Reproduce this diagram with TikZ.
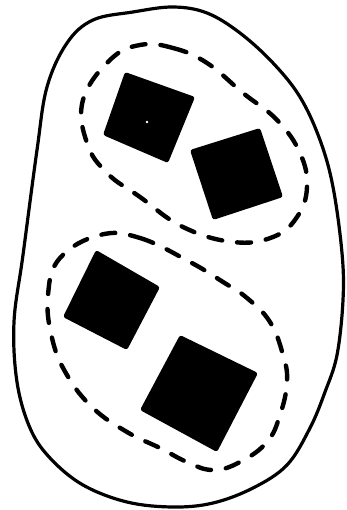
\documentclass[tikz,border=0pt]{standalone}
\begin{document}
\begin{tikzpicture}[x=1pt,y=-1pt,
  outer/.style={line width=3.2pt},
  group/.style={line width=4.4pt,dash pattern=on 14pt off 15pt,line cap=round},
  blk/.style={fill=black,rounded corners=2.5pt}]
\useasboundingbox (0,0) rectangle (346,510);
% outer boundary
\draw[outer] plot[smooth cycle,tension=0.6] coordinates{
 (173,7) (207,13) (240,33) (273,63) (300,97) (320,140) (333,187) (342,253)
 (343,300) (337,355) (325,392) (310,428) (287,465) (253,488) (213,503) (173,507)
 (127,502) (83,485) (50,458) (30,428) (17,382) (14,322) (23,255) (37,150)
 (47,87) (67,43) (93,20) (133,12)};
% upper group
\draw[group] plot[smooth cycle,tension=0.7] coordinates{
 (140,45) (173,48) (207,63) (243,93) (277,120) (300,153) (307,187) (297,217)
 (273,237) (233,242) (183,227) (140,197) (107,173) (87,143) (83,100) (110,60)};
% lower group
\draw[group] plot[smooth cycle,tension=0.7] coordinates{
 (100,235) (140,238) (190,262) (223,282) (247,298) (270,322) (283,355) (287,382)
 (280,415) (267,442) (240,462) (213,470) (187,462) (160,448) (127,432) (93,408)
 (67,375) (52,338) (48,295) (60,258)};
% squares
\fill[blk] (125,72) -- (195,97) -- (168,163) -- (103,135) -- cycle;
\fill[white] (147,122) circle (1.3pt);
\fill[blk] (190,150) -- (260,128) -- (283,197) -- (213,220) -- cycle;
\fill[blk] (96,250) -- (160,287) -- (127,350) -- (63,317) -- cycle;
\fill[blk] (180,335) -- (258,373) -- (217,452) -- (140,410) -- cycle;
\end{tikzpicture}
\end{document}
